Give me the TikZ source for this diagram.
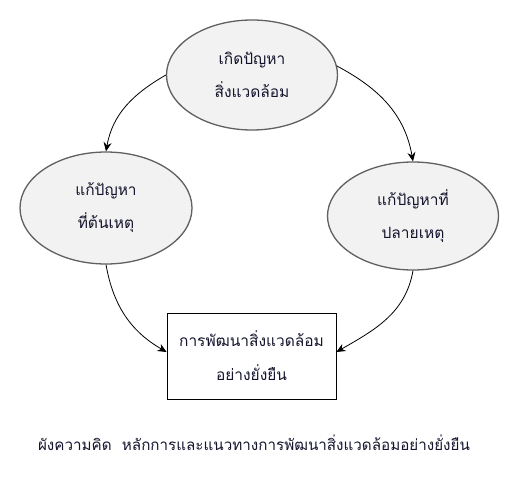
\documentclass[tikz,border=0pt]{standalone}
\usepackage{fontspec}
\newfontfamily\thaifont[Script=Thai]{Loma}
\usetikzlibrary{arrows.meta,shapes.geometric}
\definecolor{inkblue}{RGB}{20,20,45}
\tikzset{
  bubble/.style={ellipse, draw=gray!75!black, line width=1.3pt, fill=gray!10, inner sep=0pt, align=center,
    text=inkblue, font=\thaifont\fontsize{15.5}{33}\selectfont},
  goalbox/.style={rectangle, draw=black, line width=0.8pt, fill=white, inner sep=0pt, align=center,
    minimum width=169pt, minimum height=86pt, text=inkblue, font=\thaifont\fontsize{15.5}{34}\selectfont},
  flow/.style={-{Stealth[length=9pt,width=8pt]}, line width=0.8pt, black},
  caption/.style={text=inkblue, font=\thaifont\fontsize{15.2}{18}\selectfont}
}
\begin{document}
\begin{tikzpicture}[x=1pt,y=1pt]
\useasboundingbox (0,0) rectangle (521,-476);
\node[bubble, minimum width=171pt, minimum height=110pt] (top) at (252,-75) {เกิดปัญหา\\สิ่งแวดล้อม};
\node[bubble, minimum width=172pt, minimum height=112pt] (left) at (106,-208) {แก้ปัญหา\\ที่ต้นเหตุ};
\node[bubble, minimum width=171pt, minimum height=108pt] (right) at (413,-216) {แก้ปัญหาที่\\ปลายเหตุ};
\node[goalbox] (goal) at (251.5,-356) {การพัฒนาสิ่งแวดล้อม\\อย่างยั่งยืน};
\node[caption] (cap) at (254,-443) {ผังความคิด\ \ หลักการและแนวทางการพัฒนาสิ่งแวดล้อมอย่างยั่งยืน};
\draw[flow] (top.180) to[out=210, in=80] (left.north);
\draw[flow] (top.6) to[out=-28, in=100] (right.north);
\draw[flow] (left.south) to[out=-80, in=150] ([yshift=4pt]goal.west);
\draw[flow] (right.south) to[out=-100, in=30] ([yshift=4pt]goal.east);
\end{tikzpicture}
\end{document}
